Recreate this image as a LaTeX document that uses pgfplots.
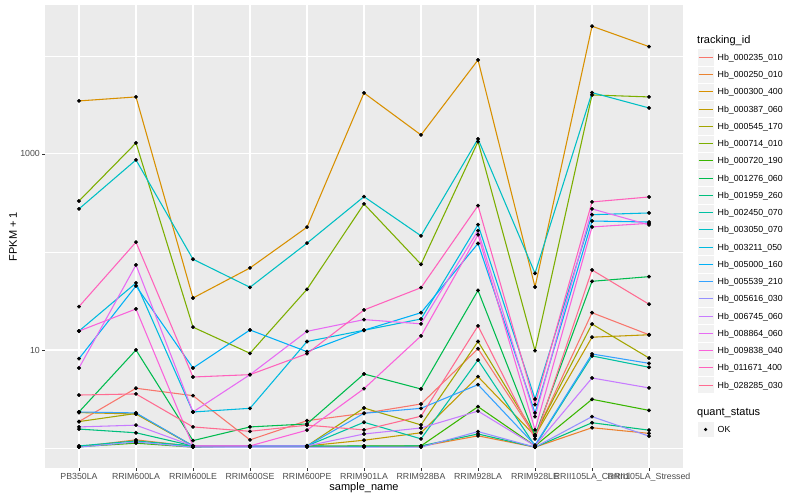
\documentclass[border=0pt]{standalone}
\usepackage{fontspec}
\setmainfont{Liberation Sans}
\usepackage{pgfplots}
\pgfplotsset{compat=1.18}
\usepackage{pgfplotstable}

\definecolor{c1}{HTML}{F8766D}
\definecolor{c2}{HTML}{EA8331}
\definecolor{c3}{HTML}{D89000}
\definecolor{c4}{HTML}{C09B00}
\definecolor{c5}{HTML}{A3A500}
\definecolor{c6}{HTML}{7CAE00}
\definecolor{c7}{HTML}{39B600}
\definecolor{c8}{HTML}{00BB4E}
\definecolor{c9}{HTML}{00BF7D}
\definecolor{c10}{HTML}{00C1A3}
\definecolor{c11}{HTML}{00BFC4}
\definecolor{c12}{HTML}{00BAE0}
\definecolor{c13}{HTML}{00B0F6}
\definecolor{c14}{HTML}{35A2FF}
\definecolor{c15}{HTML}{9590FF}
\definecolor{c16}{HTML}{C77CFF}
\definecolor{c17}{HTML}{E76BF3}
\definecolor{c18}{HTML}{FA62DB}
\definecolor{c19}{HTML}{FF62BC}
\definecolor{c20}{HTML}{FF6C91}
\definecolor{panelgray}{HTML}{EBEBEB}
\definecolor{keygray}{HTML}{F2F2F2}
\definecolor{tickgray}{HTML}{333333}
\definecolor{ticktext}{HTML}{4D4D4D}

% FPKM + 1 per sample (rows) and tracking id (columns s1..s20)
\pgfplotstableread{
x s1 s2 s3 s4 s5 s6 s7 s8 s9 s10 s11 s12 s13 s14 s15 s16 s17 s18 s19 s20
0 1.86 1.03 3475 2.30 1.86 331 1.03 2.33 1.56 1.05 275 15.6 8.15 2.33 1.02 1.64 6.55 15.6 27.7 3.47
1 4.07 1.21 3818 2.22 2.25 1295 1.12 10.0 1.43 1.18 869 48.3 45.0 2.28 1.15 1.71 73.7 26.2 126 3.56
2 3.42 1.04 33.9 1.05 1.05 17.1 1.02 1.19 1.05 1.05 84.3 2.33 6.55 1.05 1.02 1.05 2.33 1.05 5.30 1.64
3 1.21 1.04 68.7 1.05 1.05 9.25 1.05 1.64 1.04 1.05 43.6 2.54 16.0 1.05 1.02 1.05 5.60 1.05 5.60 1.48
4 1.90 1.04 179 1.05 1.05 41.6 1.04 1.76 1.05 1.05 123 12.2 9.61 1.05 1.02 1.05 15.5 1.52 9.17 1.71
5 2.26 1.04 4190 1.20 2.56 309 1.05 5.69 1.04 1.83 367 15.9 15.9 2.26 1.02 1.39 20.4 4.03 25.6 1.53
6 2.81 1.04 1563 1.43 1.72 74.9 1.05 4.00 1.05 1.24 146 20.7 24.0 2.54 1.02 1.60 18.5 13.9 43.2 2.11
7 10.3 1.33 9100 5.34 12.2 1335 2.64 40.5 1.39 7.90 1422 190 122 4.43 1.47 2.38 165 150 297 17.6
8 1.33 1.02 43.9 1.33 1.37 9.84 1.05 1.33 1.02 1.05 60.6 3.16 2.28 1.07 1.02 1.05 2.09 1.53 2.77 1.24
9 24.0 1.61 20100 13.5 18.4 4000 3.14 50.2 1.81 8.69 4225 240 207 9.10 2.09 5.18 275 180 324 65.5
10 14.3 1.41 12450 14.3 8.28 3818 2.42 56.0 1.52 6.66 2946 250 202 7.31 1.32 4.10 189 196 364 29.3
}\data

\begin{document}
\begin{tikzpicture}[x=1pt,y=1pt]
\fill[white] (0,0) rectangle (800,500);
\path[use as bounding box] (0,0) rectangle (800,500);
\begin{axis}[
  at={(45pt,32pt)}, anchor=south west,
  scale only axis, width=638pt, height=463pt,
  xmin=-0.596, xmax=10.596,
  ymode=log, ymin=0.625, ymax=33100,
  axis background/.style={fill=panelgray},
  axis line style={draw=none},
  xtick={0,...,10},
  xticklabels={PB350LA,RRIM600LA,RRIM600LE,RRIM600SE,RRIM600PE,RRIM901LA,RRIM928BA,RRIM928LA,RRIM928LE,RRII105LA\_Control,RRII105LA\_Stressed},
  ytick={10,1000}, yticklabels={10,1000},
  minor ytick={1,100,10000},
  grid=both,
  major grid style={white, line width=1.07pt},
  minor grid style={white, line width=0.53pt},
  tick align=outside, tick pos=left,
  major tick length=2.75pt, minor tick length=0pt,
  tick style={color=tickgray, line width=0.53pt},
  ticklabel style={font=\fontsize{8.8}{10}\selectfont, text=ticktext, inner sep=0pt},
  xticklabel shift=2.6pt, yticklabel shift=2.2pt,
  xlabel={sample\_name}, ylabel={FPKM + 1},
  label style={font=\fontsize{11}{13}\selectfont, text=black},
  xlabel style={at={(axis description cs:0.5,-0.0421)}, anchor=center},
  ylabel style={at={(axis description cs:-0.0502,0.5)}, anchor=center},
]
\pgfplotsinvokeforeach{1,...,20}{
  \addplot[color=c#1, line width=1.07pt, mark=none] table[x=x,y=s#1]{\data};
}
\pgfplotsinvokeforeach{1,...,20}{
  \addplot[only marks, mark=*, mark size=1.75pt, black] table[x=x,y=s#1]{\data};
}
\end{axis}
% legend
\node[anchor=base west, inner sep=0pt, font=\fontsize{11}{13}\selectfont] at (697,456) {tracking\_id};
\foreach \i/\name in {1/Hb\_000235\_010,2/Hb\_000250\_010,3/Hb\_000300\_400,4/Hb\_000387\_060,5/Hb\_000545\_170,6/Hb\_000714\_010,7/Hb\_000720\_190,8/Hb\_001276\_060,9/Hb\_001959\_260,10/Hb\_002450\_070,11/Hb\_003050\_070,12/Hb\_003211\_050,13/Hb\_005000\_160,14/Hb\_005539\_210,15/Hb\_005616\_030,16/Hb\_006745\_060,17/Hb\_008864\_060,18/Hb\_009838\_040,19/Hb\_011671\_400,20/Hb\_028285\_030}{
  \pgfmathsetmacro\yc{500-57.3-(\i-1)*17.25}
  \pgfmathsetmacro\yl{floor(\yc)+0.5}
  \filldraw[fill=keygray, draw=white, line width=0.5pt] (697,\yc-8.6) rectangle (714.3,\yc+8.6);
  \draw[draw=c\i, line width=1.1pt] (698.5,\yl) -- (712.8,\yl);
  \node[anchor=base west, inner sep=0pt, font=\fontsize{8.8}{10}\selectfont] at (717.5,\yc-3.15) {\name};
}
\node[anchor=base west, inner sep=0pt, font=\fontsize{11}{13}\selectfont] at (697,84) {quant\_status};
\filldraw[fill=keygray, draw=white, line width=0.5pt] (697,62.7) rectangle (714.3,78.3);
\fill[black] (705.65,70.5) circle (1.75);
\node[anchor=base west, inner sep=0pt, font=\fontsize{8.8}{10}\selectfont] at (717.5,67.35) {OK};
\end{tikzpicture}
\end{document}
